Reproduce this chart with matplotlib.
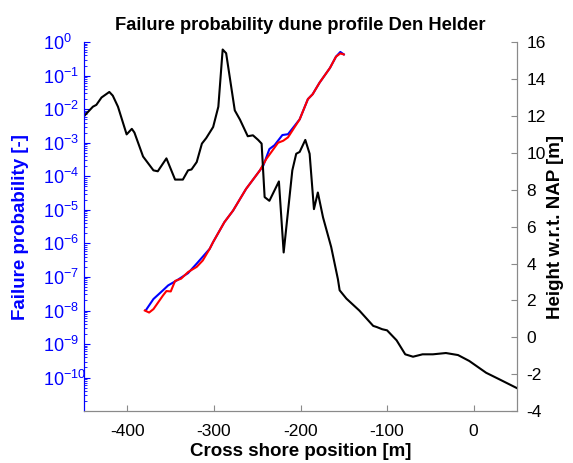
import matplotlib
matplotlib.use("Agg")
import matplotlib.pyplot as plt
from matplotlib.ticker import LogLocator, NullFormatter

plt.rcParams['font.family'] = ['Liberation Sans', 'DejaVu Sans']
plt.rcParams['mathtext.default'] = 'regular'
plt.rcParams['axes.unicode_minus'] = False

# dune profile (cross shore position [m], height w.r.t. NAP [m])
profile_x = [-450, -440, -436, -430, -421, -417, -411, -401, -395, -392, -382, -370,
             -365, -355, -345, -336, -330, -326, -320, -314, -309, -301, -295, -290,
             -286, -276, -270, -261, -255, -249, -245, -241.5, -236, -225, -219.5,
             -209.5, -205, -201, -194.5, -189.5, -184.5, -180, -174, -164.6, -156.8,
             -154.8, -147, -132, -116, -112, -105.6, -100, -89, -79, -70, -59, -47,
             -32, -18, -5, 14.5, 30, 50]
profile_h = [12.0, 12.5, 12.6, 13.0, 13.3, 13.1, 12.5, 11.0, 11.3, 11.1, 9.8, 9.05,
             9.0, 9.7, 8.55, 8.55, 9.05, 9.1, 9.5, 10.5, 10.8, 11.4, 12.5, 15.6,
             15.4, 12.3, 11.8, 10.9, 10.95, 10.7, 10.5, 7.6, 7.4, 8.45, 4.6,
             9.05, 9.95, 10.05, 10.7, 9.95, 6.95, 7.85, 6.5, 4.9, 3.15,
             2.55, 2.1, 1.45, 0.62, 0.56, 0.44, 0.38, -0.16, -0.92, -1.05, -0.92, -0.92,
             -0.85, -0.96, -1.28, -1.92, -2.28, -2.75]

# failure probability, two computations
blue_x = [-379, -370, -359, -353, -343, -330, -320, -305, -301, -288, -278, -263,
          -247, -243, -236, -230, -221, -214.5, -201, -191.5, -186, -178, -166,
          -159, -154, -150]
blue_p = [1.0e-8, 2.2e-8, 4.0e-8, 5.6e-8, 7.9e-8, 1.3e-7, 2.5e-7, 6.9e-7, 1.1e-6,
          4.3e-6, 9.5e-6, 4.2e-5, 1.5e-4, 2.1e-4, 6.5e-4, 8.5e-4, 1.7e-3, 1.8e-3,
          5.0e-3, 2.0e-2, 2.8e-2, 6.2e-2, 1.7e-1, 3.7e-1, 5.1e-1, 4.3e-1]
red_x = [-380, -375, -370, -359, -355, -350, -345, -338, -330, -320, -313, -305,
         -301, -288, -278, -263, -247, -239.5, -226, -220, -214.5, -201, -191.5,
         -186, -178, -166, -159, -154, -150]
red_p = [1.0e-8, 8.7e-9, 1.1e-8, 2.8e-8, 3.8e-8, 3.7e-8, 7.6e-8, 8.9e-8, 1.4e-7,
         2.0e-7, 3.1e-7, 6.9e-7, 1.1e-6, 4.3e-6, 9.5e-6, 4.2e-5, 1.5e-4, 3.3e-4,
         1.0e-3, 1.15e-3, 1.45e-3, 5.0e-3, 2.0e-2, 2.8e-2, 6.2e-2, 1.7e-1, 3.7e-1,
         4.6e-1, 4.3e-1]

fig = plt.figure(figsize=(5.73, 4.63), dpi=100)
ax = fig.add_axes([0.147, 0.112, 0.755, 0.797])
ax2 = ax.twinx()

ax.plot(blue_x, blue_p, color='blue', lw=1.5)
ax.plot(red_x, red_p, color='red', lw=1.5)
ax2.plot(profile_x, profile_h, color='black', lw=1.5)

ax.set_yscale('log')
ax.set_ylim(1e-11, 1)
ax.set_yticks([10.0 ** k for k in range(-10, 1)])
ax.yaxis.set_minor_locator(LogLocator(base=10, subs=range(2, 10), numticks=20))
ax.yaxis.set_minor_formatter(NullFormatter())
ax.set_xlim(-450, 50)
ax.set_xticks([-400, -300, -200, -100, 0])
ax2.set_ylim(-4, 16)
ax2.set_yticks(range(-4, 17, 2))

grey = '#8a8a8a'
for a in (ax, ax2):
    a.spines['top'].set_visible(False)
    a.spines['bottom'].set_color(grey)
    a.spines['left'].set_color('blue')
    a.spines['right'].set_color(grey)

# log labels start at a common x, so the exponents stick out to the right
ax.tick_params(axis='y', which='both', direction='in', colors='blue', labelsize=13,
               pad=30)
ax.tick_params(axis='y', which='major', length=4)
ax.tick_params(axis='y', which='minor', length=2)
for lbl in ax.get_yticklabels():
    lbl.set_horizontalalignment('left')
ax.tick_params(axis='x', direction='in', length=4, color=grey, labelcolor='black',
               labelsize=12.5, pad=9)
ax2.tick_params(axis='y', direction='in', length=4, color=grey, labelcolor='black',
                labelsize=12.5, pad=7)

ax.set_title('Failure probability dune profile Den Helder', fontsize=13.2,
             fontweight='bold', pad=9)
ax.set_xlabel('Cross shore position [m]', fontsize=13.5, fontweight='bold', labelpad=3)
ax.set_ylabel('Failure probability [-]', fontsize=13.5, fontweight='bold', color='blue')
ax.yaxis.set_label_coords(-0.127, 0.5)
ax2.set_ylabel('Height w.r.t. NAP [m]', fontsize=13.5, fontweight='bold')
ax2.yaxis.set_label_coords(1.07, 0.5)

plt.savefig('out.png', dpi=100)
